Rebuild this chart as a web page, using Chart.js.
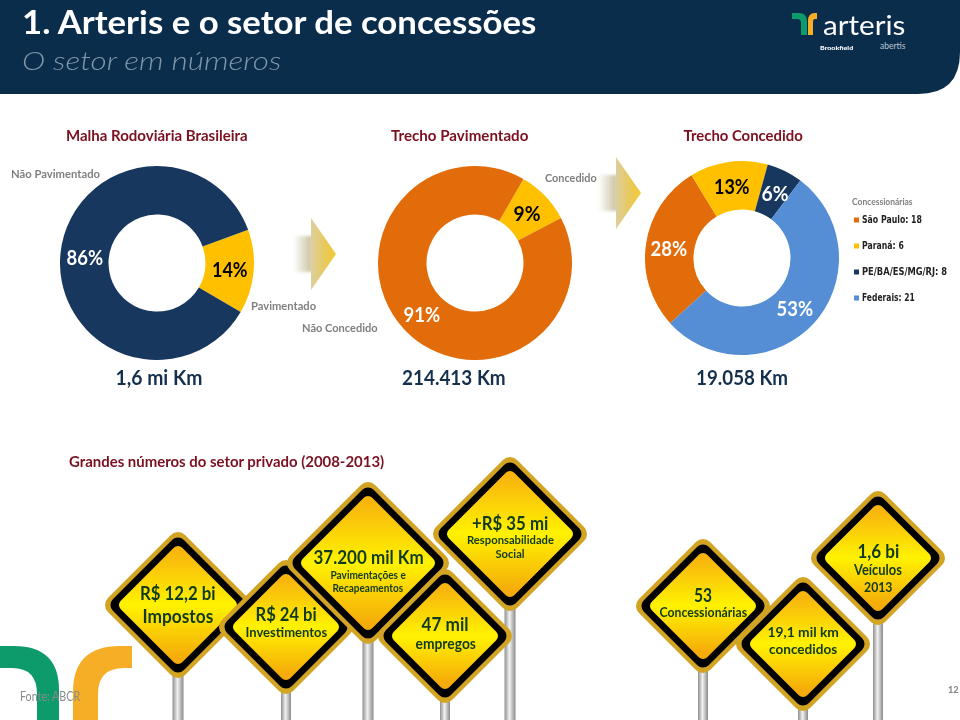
<!DOCTYPE html>
<html lang="pt"><head><meta charset="utf-8">
<script src="https://cdn.jsdelivr.net/npm/chart.js@4"></script>
<style>
html,body{margin:0;padding:0;background:#fff;width:960px;height:720px;overflow:hidden}
#stage{position:relative;width:960px;height:720px;overflow:hidden;font-family:Lato,sans-serif}
svg{position:absolute;left:0;top:0}
canvas{position:absolute}
.t{position:absolute;white-space:nowrap;line-height:1;transform-origin:center center}
</style></head><body><div id="stage">
<svg id="bg" width="960" height="720" xmlns="http://www.w3.org/2000/svg"></svg>
<canvas id="c1" width="194" height="194" style="left:60px;top:166px"></canvas>
<canvas id="c2" width="194" height="194" style="left:378px;top:166px"></canvas>
<canvas id="c3" width="194" height="194" style="left:645px;top:161px"></canvas>
</div>
<script>
// ---- data ----
const malhaLabels = ['Pavimentado', 'Não Pavimentado'];
const malhaValues = [14, 86];
const pavimentadoLabels = ['Concedido', 'Não Concedido'];
const pavimentadoValues = [9, 91];
const concedidoLabels = ['São Paulo', 'Paraná', 'PE/BA/ES/MG/RJ', 'Federais'];
const concedidoValues = [28, 13, 6, 53];
const concessionariasCounts = [18, 6, 8, 21];
const chartTitles = ['Malha Rodoviária Brasileira', 'Trecho Pavimentado', 'Trecho Concedido'];
const chartTotals = ['1,6 mi Km', '214.413 Km', '19.058 Km'];

// ---- styling ----
const NAVY='#17375e', GOLD='#ffc000', ORANGE='#e36c0a', BLUE='#558ed5';
const stage=document.getElementById('stage'), bg=document.getElementById('bg');
const donut=(id,labels,data,colors,rotation)=>new Chart(document.getElementById(id),{
  type:'doughnut',
  data:{labels,datasets:[{data,backgroundColor:colors,borderWidth:0,hoverOffset:0}]},
  options:{responsive:false,animation:false,cutout:'50%',rotation,
    layout:{padding:0},plugins:{legend:{display:false},tooltip:{enabled:false}}}
});
donut('c1',malhaLabels,malhaValues,[GOLD,NAVY],70);
donut('c2',pavimentadoLabels,pavimentadoValues,[GOLD,ORANGE],30);
donut('c3',concedidoLabels,concedidoValues,[ORANGE,GOLD,NAVY,BLUE],227.8);

// ---- decoration ----
let defs=`<defs>
<linearGradient id="gY" x1="0" y1="0" x2="0" y2="1"><stop offset="0" stop-color="#f8b50e"/><stop offset=".5" stop-color="#fff200"/><stop offset="1" stop-color="#f5ab0a"/></linearGradient>
<linearGradient id="gP" x1="0" y1="0" x2="1" y2="0"><stop offset="0" stop-color="#8f8f8f"/><stop offset=".45" stop-color="#f1f1f1"/><stop offset="1" stop-color="#8a8a8a"/></linearGradient>
<linearGradient id="gA" x1="0" y1="0" x2="1" y2="0"><stop offset="0" stop-color="#dccf9f"/><stop offset=".55" stop-color="#e8c95c"/><stop offset="1" stop-color="#f2c932"/></linearGradient>
<linearGradient id="gF" x1="0" y1="0" x2="1" y2="0"><stop offset="0" stop-color="#c9c5ac" stop-opacity="0"/><stop offset="1" stop-color="#c9c09a"/></linearGradient>
<filter id="bl" x="-30%" y="-30%" width="160%" height="160%"><feGaussianBlur stdDeviation="1.6"/></filter>
<filter id="b1" x="-20%" y="-20%" width="140%" height="140%"><feGaussianBlur stdDeviation=".6"/></filter>
</defs>`;
let s=defs;
s+=`<path d="M0 0H960V52Q960 94 918 94H0Z" fill="#0b2d4c"/>`;
// header logo
s+=`<path d="M792 13H799Q807 13 807 22V35H801V23Q801 19 797 19H792Z" fill="#0e9b6b"/>`;
s+=`<path d="M817 13H815Q808 13 808 21V35H813V22Q813 19 815 19H817Z" fill="#f5ae25"/>`;
// footer logo
s+=`<path d="M0 646H14Q59 646 59 690V720H37V694Q37 668 12 668H0Z" fill="#0e9b6b"/>`;
s+=`<path d="M132 646V668H124Q98 668 98 694V720H73V692Q73 646 120 646Z" fill="#f5ae25"/>`;
// arrows
const arrows=[[311,254],[616,193]];
arrows.forEach(([x,y])=>{
  s+=`<rect x="${x-18}" y="${y-18}" width="19" height="36" fill="url(#gF)" filter="url(#bl)"/>`;
  s+=`<polygon points="${x},${y-36} ${x+25},${y} ${x},${y+36}" fill="url(#gA)" filter="url(#b1)"/>`;
});
// road signs: cx, cy, half-diagonal
const signs=[[178,605,73],[286,627,67],[510,534,77],[368,563,81],[445,636,67],[703,606,67],[803,644,67],[878,558,67]];
const dia=(x,y,h)=>`${x},${y-h} ${x+h},${y} ${x},${y+h} ${x-h},${y}`;
signs.forEach(([x,y,H])=>{
  const w=H>70?11:10;
  s+=`<rect x="${x-w/2}" y="${y+H-3}" width="${w}" height="${720-y-H+3}" fill="url(#gP)"/>`;
});
signs.forEach(([x,y,H])=>{
  s+=`<polygon points="${dia(x,y,H-10)}" fill="#d3a424" stroke="#d3a424" stroke-width="20" stroke-linejoin="round"/>`;
  s+=`<polygon points="${dia(x,y,H-13.5)}" fill="#000" stroke="#000" stroke-width="16" stroke-linejoin="round"/>`;
  s+=`<polygon points="${dia(x,y,H-20)}" fill="url(#gY)" stroke="url(#gY)" stroke-width="12" stroke-linejoin="round"/>`;
});
// legend squares
const legendColors=[ORANGE,GOLD,NAVY,BLUE];
const legendY=[220,246,272,298];
legendColors.forEach((c,i)=>{s+=`<rect x="854" y="${legendY[i]-2.5}" width="5" height="5" fill="${c}"/>`;});
bg.innerHTML=s;

// ---- text ----
function T(str,x,y,size,color,opt={}){
  const e=document.createElement('div');e.className='t';e.textContent=str;
  e.style.fontSize=size+'px';e.style.color=color;e.style.fontWeight=opt.w||700;
  if(opt.i)e.style.fontStyle='italic';
  if(opt.f)e.style.fontFamily=opt.f;
  stage.appendChild(e);
  const W=e.offsetWidth,H=e.offsetHeight;
  const left=opt.left?x:x-W/2;
  const sx=opt.fit?opt.fit/W:1;
  e.style.left=left+'px';e.style.top=(y-H/2)+'px';
  e.style.transformOrigin=opt.left?'left center':'center center';
  e.style.transform=`scaleX(${sx})`;
}
const RED='#7a1020', GRAY='#7f7f7f', INK='#14304d', GREEN='#0f3a1c';
T('1. Arteris e o setor de concessões',22,21,33,'#fff',{left:1,fit:514});
T('O setor em números',22,60,26,'#7f97a8',{left:1,fit:259,w:300,i:1});
T('arteris',823,25,26,'#fff',{left:1,fit:82,w:400});
T('Brookfield',820,47.5,6,'#fff',{left:1,fit:33,w:900});
T('abertis',880,46.5,8.5,'#b9c4ce',{left:1,fit:25,w:400});

const titleCx=[157,459.5,742.5], titleW=[182,137,119];
chartTitles.forEach((t,i)=>T(t,titleCx[i],135,16,RED,{fit:titleW[i]}));
const totalCx=[158.5,454,742], totalW=[87,104,92];
chartTotals.forEach((t,i)=>T(t,totalCx[i],377,20,INK,{fit:totalW[i]}));

T(malhaLabels[1],11,174,11.5,GRAY,{left:1,fit:89});
T(malhaLabels[0],251,305.5,11.5,GRAY,{left:1,fit:65});
T(pavimentadoLabels[1],302,328,11.5,GRAY,{left:1,fit:76});
T(pavimentadoLabels[0],545,178,11.5,GRAY,{left:1,fit:52});

const pct=v=>v+'%';
T(pct(malhaValues[1]),85,257,20,'#fff',{fit:37});
T(pct(malhaValues[0]),230,269,20,'#000',{fit:36});
T(pct(pavimentadoValues[1]),422,314,20,'#fff',{fit:37});
T(pct(pavimentadoValues[0]),527,213,20,'#000',{fit:27});
T(pct(concedidoValues[0]),669,248,20,'#fff',{fit:37});
T(pct(concedidoValues[1]),732,186,20,'#000',{fit:36});
T(pct(concedidoValues[2]),775,193,20,'#fff',{fit:27});
T(pct(concedidoValues[3]),795,308,20,'#fff',{fit:37});

T('Concessionárias',852,201,10,GRAY,{left:1,fit:61});
const legendW=[60,42,85,53];
concedidoLabels.forEach((n,i)=>T(n+': '+concessionariasCounts[i],862,legendY[i],10,'#222',{left:1,fit:legendW[i],f:'"DejaVu Sans",sans-serif'}));

T('Grandes números do setor privado (2008-2013)',69,462,15.7,RED,{left:1,fit:315});
T('Fonte: ABCR',20,697,12.5,'#8a8a8a',{left:1,fit:60,w:400});
T('12',948,689,10,'#808080',{left:1,fit:11});

const signText=[
 ['R$ 12,2 bi',178,592,19,76],['Impostos',178,615,19,71],
 ['R$ 24 bi',286,613,19,61],['Investimentos',286,633,13.5,82],
 ['37.200 mil Km',368,556,19,110],['Pavimentações e',368,574,11,75],['Recapeamentos',368,587,11,71],
 ['47 mil',445,623,19,47],['empregos',445,643,15,60],
 ['+R$ 35 mi',510,522,19,76],['Responsabilidade',510,540,11.5,87],['Social',510,554,11.5,29],
 ['53',703,594,19,18],['Concessionárias',703,613,13.5,88],
 ['19,1 mil km',803,632,14,71],['concedidos',803,649,14,68],
 ['1,6 bi',878,550,19,42],['Veículos',878,570,14.5,48],['2013',878,587,14,28]
];
signText.forEach(([t,x,y,sz,w])=>T(t,x,y,sz,GREEN,{fit:w}));
</script></body></html>
